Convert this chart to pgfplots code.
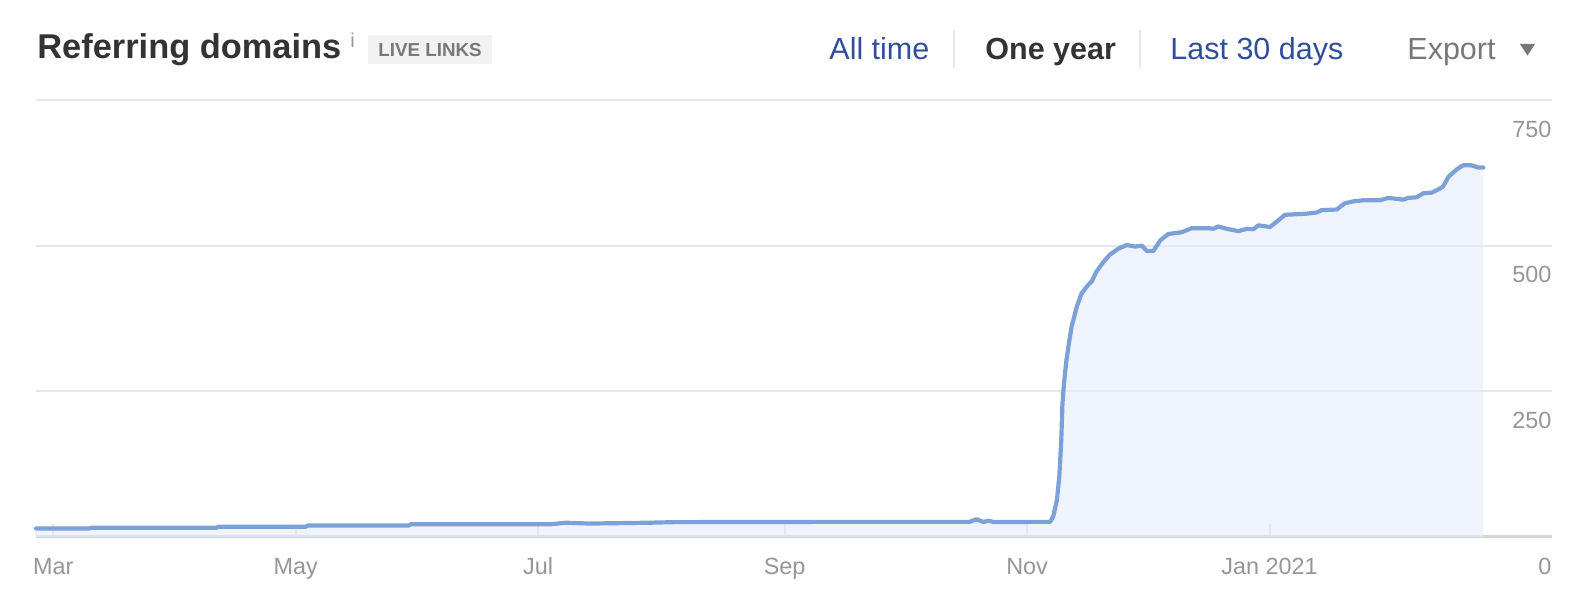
\documentclass[border=0pt]{standalone}
\usepackage{fontspec}
\setmainfont{Liberation Sans}
\usepackage{pgfplots}
\usepackage{pgfplotstable}
\pgfplotsset{compat=1.18}
\definecolor{linecol}{RGB}{124,161,217}
\definecolor{fillcol}{RGB}{228,237,250}
\definecolor{gridcol}{RGB}{230,230,230}
\definecolor{basecol}{RGB}{212,212,212}
\definecolor{tickcol}{RGB}{222,222,222}
\definecolor{labcol}{RGB}{150,150,150}
\definecolor{titlecol}{RGB}{51,51,51}
\definecolor{linkcol}{RGB}{48,78,158}
\definecolor{badgebg}{RGB}{242,242,242}
\definecolor{badgetx}{RGB}{120,120,120}
\definecolor{exportcol}{RGB}{120,120,120}
\definecolor{sepcol}{RGB}{230,230,230}
\pgfplotstableread{
d v
-4.35 14.6
9.0 14.6
9.5 15.8
41.0 15.8
41.5 17.5
63.5 17.5
64.0 19.7
89.5 19.7
90.0 21.9
125 21.9
129 24.5
133 23.5
135 23.1
150 24.5
156 25.5
198 26
230.5 26
232.3 30.5
234 25.8
235.3 28
236.5 25.8
250.8 26
251.6 36
252.5 63
253.1 103
253.6 166
253.9 229
254.3 264
254.8 298
255.4 327
256.2 361
257.5 395
258.7 418
260.4 433
261.3 439
262.5 456
264.2 472
265.9 485
268.0 495
270.1 501
272.2 498.5
273.9 500
275.1 491
276.8 491
278.5 509
280.5 520
283.9 523
286.4 530
290.6 530
291.9 529
293.1 533
295.2 529
298.2 525
300.3 529
301.9 528
303.2 535
306.1 532
307.8 541
309.9 553
312.8 554
315.4 555
317.9 557
319.1 561
322.9 562
325.0 573
327.1 576
329.6 578
333.8 578
335.9 582
339.7 579
340.9 582
343.0 583
344.7 590
346.8 591
348.9 598
349.7 602
351.0 618
353.1 631
354.7 638
356.8 638
358.5 634
359.8 634
}\rddata
\begin{document}
\begin{tikzpicture}[x=1pt,y=1pt]
\path[use as bounding box] (0,0) rectangle (789,305);
% header
\node[anchor=base west, inner sep=0pt, text=titlecol, font=\fontsize{17.2}{20}\selectfont\bfseries] at (18.5,275.8) {Referring domains};
\node[anchor=base west, inner sep=0pt, text=labcol, font=\fontsize{10}{12}\selectfont] at (175,281) {i};
\fill[badgebg] (184,272.75) rectangle (246,287.5);
\node[inner sep=0pt, text=badgetx, font=\fontsize{9.4}{11}\selectfont\bfseries] at (215,280.1) {LIVE LINKS};
\node[anchor=base west, inner sep=0pt, text=linkcol, font=\fontsize{15.25}{18}\selectfont] at (414.5,275) {All time};
\draw[sepcol, line width=0.8pt] (477,271) -- (477,290);
\node[anchor=base west, inner sep=0pt, text=titlecol, font=\fontsize{15.25}{18}\selectfont\bfseries] at (492.5,275) {One year};
\draw[sepcol, line width=0.8pt] (570,271) -- (570,290);
\node[anchor=base west, inner sep=0pt, text=linkcol, font=\fontsize{15.25}{18}\selectfont] at (585,275) {Last 30 days};
\node[anchor=base west, inner sep=0pt, text=exportcol, font=\fontsize{15.25}{18}\selectfont] at (703.5,275) {Export};
\fill[exportcol] (760,283) -- (767.5,283) -- (763.75,277.2) -- cycle;
\begin{axis}[
  at={(18pt,36.5pt)}, anchor=south west,
  scale only axis, width=757.85pt, height=218.5pt,
  xmin=-4.35, xmax=377, ymin=0, ymax=750,
  axis line style={draw=none},
  xtick={0,61,122,184,245,306},
  xticklabels={Mar,May,Jul,Sep,Nov,Jan 2021},
  xtick pos=left,
  tick align=inside,
  major tick length=6.5pt,
  xtick style={draw=tickcol, line width=1pt},
  ytick={250,500,750},
  yticklabels={250,500,750},
  extra y ticks={0}, extra y tick labels={0},
  extra y tick style={grid style={draw=basecol, line width=1.5pt}},
  ytick style={draw=none},
  ymajorgrids, grid style={draw=gridcol, line width=1pt},
  yticklabel pos=right,
  tick label style={font=\fontsize{11.7}{14}\selectfont, text=labcol, inner sep=0pt},
  xticklabel style={anchor=north, yshift=-10.3pt},
  yticklabel style={anchor=north east, yshift=-10.2pt},
  clip=false,
]
\addplot[draw=none, fill=fillcol, fill opacity=0.6] table[x=d,y=v] {\rddata} \closedcycle;
\addplot[linecol, line width=2.1pt, line join=round, line cap=round] table[x=d,y=v] {\rddata};
\end{axis}
\end{tikzpicture}
\end{document}
